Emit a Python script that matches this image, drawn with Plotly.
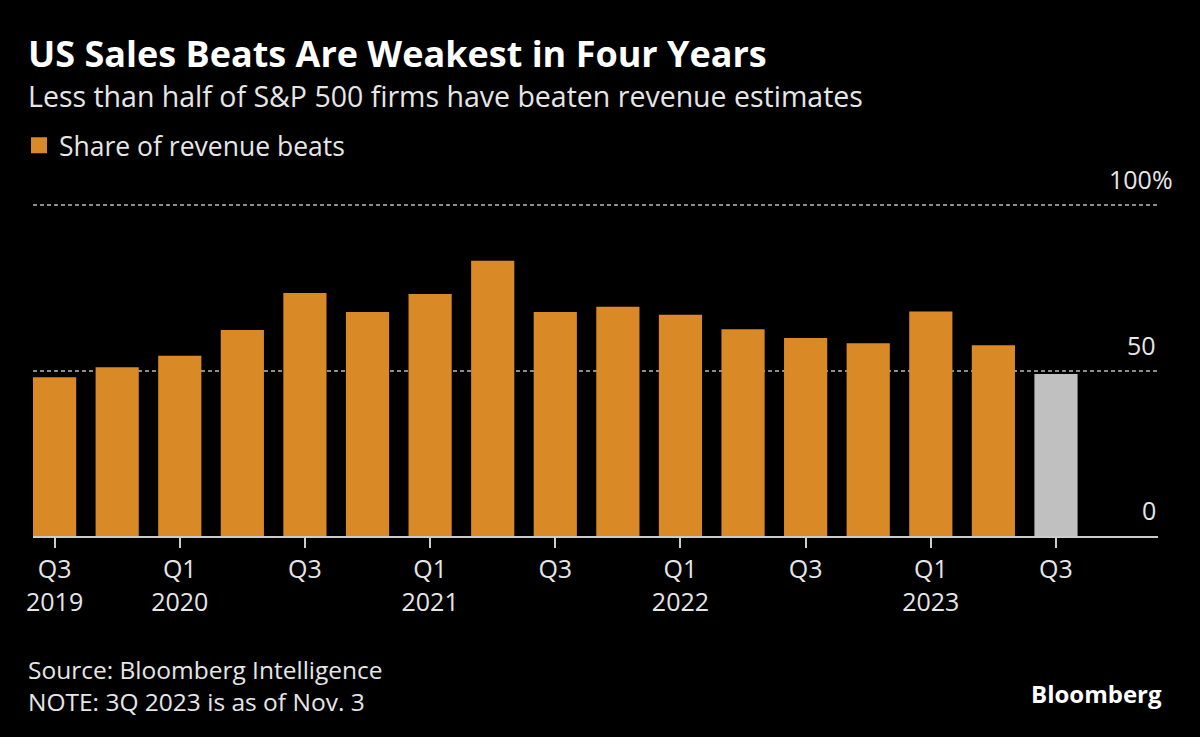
import plotly.graph_objects as go

quarters = ["Q3 2019", "Q4 2019", "Q1 2020", "Q2 2020", "Q3 2020", "Q4 2020",
            "Q1 2021", "Q2 2021", "Q3 2021", "Q4 2021", "Q1 2022", "Q2 2022",
            "Q3 2022", "Q4 2022", "Q1 2023", "Q2 2023", "Q3 2023"]
share_beats = [48.0, 51.0, 54.5, 62.3, 73.5, 67.7, 73.2, 83.2, 67.7, 69.3,
               66.9, 62.5, 59.9, 58.3, 67.9, 57.7, 49.0]
tick_quarters = ["Q3 2019", "Q1 2020", "Q3 2020", "Q1 2021", "Q3 2021",
                 "Q1 2022", "Q3 2022", "Q1 2023", "Q3 2023"]
tick_labels = ["Q3<br>2019", "Q1<br>2020", "Q3", "Q1<br>2021", "Q3",
               "Q1<br>2022", "Q3", "Q1<br>2023", "Q3"]
y_ticks = [0, 50, 100]
y_tick_text = ["0", "50", "100%"]

ORANGE = "#d98a26"
GRAY = "#c0c0c0"
TXT = "#e6e6e6"
FONT = "Open Sans"

colors = [ORANGE] * (len(quarters) - 1) + [GRAY]

fig = go.Figure()
fig.add_trace(go.Bar(
    x=quarters, y=share_beats, name="Share of revenue beats",
    marker=dict(color=colors, line=dict(width=0)),
    width=0.69, showlegend=False,
))
# legend entry (square swatch)
fig.add_trace(go.Scatter(
    x=[None], y=[None], mode="markers", name="Share of revenue beats",
    marker=dict(symbol="square", size=17, color=ORANGE),
    showlegend=True,
))

W, H = 1200, 737
Y_MAX = 101
L, R, B = 33, 42, 201
T = 536 - 330.3 * Y_MAX / 100
plot_h = H - T - B

def py(p):
    return (H - B - p) / plot_h

def px(p):
    return (p - L) / (W - L - R)

annotations = []
annotations.append(dict(text="<b>US Sales Beats Are Weakest in Four Years</b>",
                        x=px(26), y=py(54.5), xref="paper", yref="paper",
                        xanchor="left", yanchor="middle", showarrow=False,
                        font=dict(family=FONT, size=36, color="#ffffff")))
annotations.append(dict(text="Less than half of S&P 500 firms have beaten revenue estimates",
                        x=px(26), y=py(97), xref="paper", yref="paper",
                        xanchor="left", yanchor="middle", showarrow=False,
                        font=dict(family=FONT, size=28.5, color=TXT)))
annotations.append(dict(text="Source: Bloomberg Intelligence<br>NOTE: 3Q 2023 is as of Nov. 3",
                        x=px(26), y=py(685), xref="paper", yref="paper",
                        xanchor="left", yanchor="middle", align="left", showarrow=False,
                        font=dict(family=FONT, size=24.5, color=TXT)))
annotations.append(dict(text="<b>Bloomberg</b>",
                        x=px(1164), y=py(693), xref="paper", yref="paper",
                        xanchor="right", yanchor="middle", showarrow=False,
                        font=dict(family=FONT, size=24, color="#ffffff")))
for v, t in zip(y_ticks, y_tick_text):
    shift = 17 if t.endswith("%") else 0
    annotations.append(dict(text=t, x=1, y=v, xref="paper", yref="y",
                            xanchor="right", yanchor="bottom", yshift=7,
                            xshift=shift, showarrow=False,
                            font=dict(family=FONT, size=25, color=TXT)))

fig.update_layout(
    width=W, height=H,
    margin=dict(l=L, r=R, t=T, b=B),
    paper_bgcolor="#000000", plot_bgcolor="#000000",
    font=dict(family=FONT, color=TXT),
    annotations=annotations,
    legend=dict(x=px(19), y=py(146), xanchor="left", yanchor="middle",
                font=dict(family=FONT, size=26.5, color=TXT),
                bgcolor="rgba(0,0,0,0)", itemclick=False, itemsizing="trace"),
    bargap=0.31,
)
fig.update_xaxes(
    type="category", categoryorder="array", categoryarray=quarters,
    range=[-0.345, 17.63],
    tickmode="array", tickvals=tick_quarters, ticktext=tick_labels,
    ticks="outside", ticklen=10, tickwidth=2, tickcolor="#cccccc",
    showline=True, linecolor="#cccccc", linewidth=2,
    showgrid=False, tickfont=dict(family=FONT, size=25, color=TXT),
)
fig.update_yaxes(
    range=[0, Y_MAX], tickvals=[50, 100], showticklabels=False,
    showgrid=True, gridcolor="#8c8c8c", gridwidth=2, griddash="4px,3px",
    zeroline=False, showline=False,
)

fig.write_html("out.html",
               config={"displayModeBar": False},
               post_script="document.body.style.margin='0';"
                           "document.body.style.background='#000';")
